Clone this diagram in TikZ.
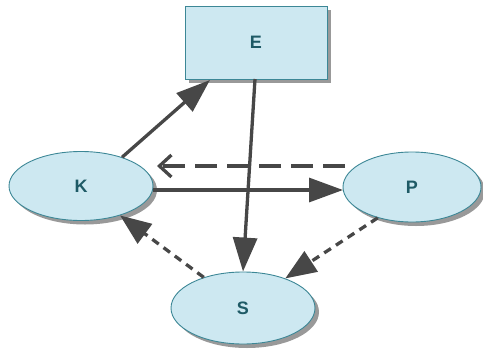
\documentclass[tikz,border=0pt]{standalone}
\usepackage{fontspec}
\setmainfont{Liberation Sans}
\usetikzlibrary{arrows.meta,shapes.geometric,shadows}
\definecolor{boxfill}{HTML}{CDE8F1}
\definecolor{boxline}{HTML}{3C8796}
\definecolor{txt}{HTML}{1E5A66}
\definecolor{arr}{HTML}{474747}
\tikzset{
  blob/.style={draw=boxline, line width=0.9pt, fill=boxfill, text=txt, font=\bfseries\fontsize{18}{18}\selectfont,
    drop shadow={shadow xshift=4pt, shadow yshift=-4pt, fill=black!50, opacity=0.8}},
  oval/.style={blob, ellipse, inner sep=0pt},
  solidarr/.style={draw=arr, line width=3.3pt, -{Triangle[length=34pt,width=24pt]}},
  dasharr/.style={draw=arr, line width=3.3pt, dash pattern=on 22pt off 10pt, -{Straight Barb[length=12pt,width=22pt,line width=3.3pt]}},
  dotarr/.style={draw=arr, line width=3.3pt, dash pattern=on 8pt off 6pt, -{Triangle[length=31pt,width=24pt]}},
}
\begin{document}
\begin{tikzpicture}[x=1pt,y=-1pt]
\useasboundingbox (0,0) rectangle (483,349);
\node[blob, rectangle, minimum width=142pt, minimum height=73pt] (E) at (256,42.5) {E};
\node[oval, minimum width=144pt, minimum height=69pt] (K) at (81,186) {K};
\node[oval, minimum width=138pt, minimum height=70pt] (P) at (412,187) {P};
\node[oval, minimum width=144pt, minimum height=72pt] (S) at (243,308) {S};
\coordinate (e1) at (210,80);
\coordinate (e2) at (255,79);
\coordinate (p1) at (345,166);
\coordinate (k1) at (157,166);
\coordinate (k2) at (153,190);
\coordinate (p2) at (343,190);
\draw[solidarr] (K.35) -- (e1);
\draw[solidarr] (e2) -- (S.north);
\draw[solidarr] (k2) -- (p2);
\draw[dasharr] (p1) -- (k1);
\draw[dotarr] (P.-138) -- (S.35);
\draw[dotarr] (S.142) -- (K.-37);
\end{tikzpicture}
\end{document}
